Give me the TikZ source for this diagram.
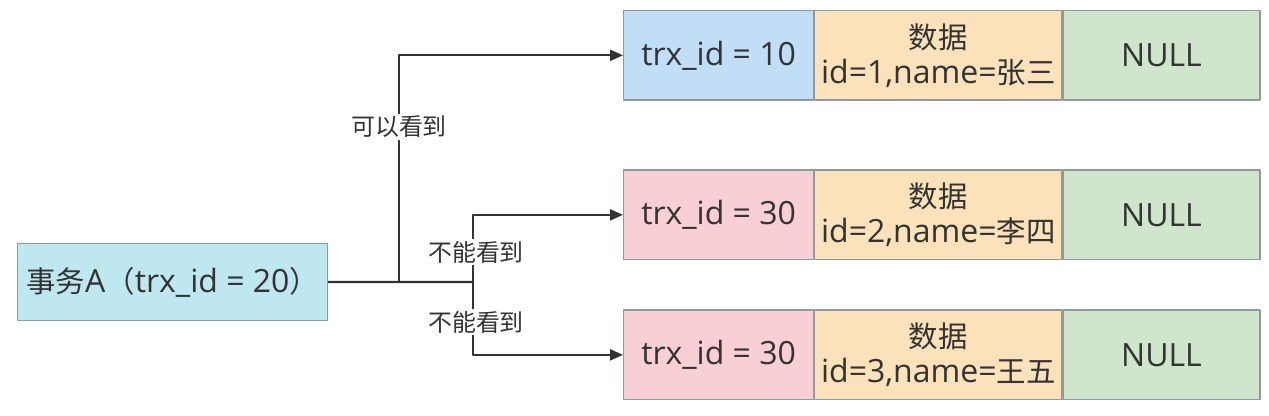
\documentclass[tikz,border=0pt]{standalone}
\usepackage{fontspec}
\setmainfont{Open Sans}
\newfontfamily\cjk[Scale=0.92]{Noto Sans CJK SC}
\usetikzlibrary{arrows.meta}
\definecolor{txtgray}{HTML}{333333}
\definecolor{edgegray}{HTML}{8E9A9C}
\definecolor{txblue}{HTML}{BEE7EF}
\definecolor{idblue}{HTML}{C2DDF6}
\definecolor{idpink}{HTML}{F8CFD4}
\definecolor{dataorange}{HTML}{FBE2BA}
\definecolor{nullgreen}{HTML}{CFE5CC}
\begin{document}
\begin{tikzpicture}[x=0.5pt, y=-0.5pt, font=\fontsize{16}{17.5}\selectfont, line join=round,
	>={Triangle[length=6.5pt,width=5.5pt]},
	cell/.style={draw=edgegray, line width=0.6pt, text=txtgray, inner sep=0pt, anchor=north west, align=center, minimum height=44.75pt},
	idcell/.style={cell, minimum width=95pt},
	datacell/.style={cell, fill=dataorange, minimum width=123.5pt},
	nullcell/.style={cell, fill=nullgreen, minimum width=98.5pt},
	lbl/.style={fill=white, text=txtgray, inner sep=1pt, font=\cjk\fontsize{13}{14}\selectfont},
	link/.style={draw=txtgray, line width=1.1pt}]
	\useasboundingbox (0,0) rectangle (1269,416);
	%transaction
	\node[cell, fill=txblue, minimum width=155pt, minimum height=38.5pt] (tx) at (17,243) {{\cjk 事务}A{\cjk （}trx\_id = 20{\cjk ）}};
	%versions
	\node[idcell, fill=idblue] (id1) at (623,10) {trx\_id = 10};
	\node[datacell] (data1) at (id1.north east) {{\cjk 数据}\\id=1,name={\cjk 张三}};
	\node[nullcell] (null1) at (data1.north east) {NULL};
	\node[idcell, fill=idpink] (id2) at (623,169.5) {trx\_id = 30};
	\node[datacell] (data2) at (id2.north east) {{\cjk 数据}\\id=2,name={\cjk 李四}};
	\node[nullcell] (null2) at (data2.north east) {NULL};
	\node[idcell, fill=idpink] (id3) at (623,309.5) {trx\_id = 30};
	\node[datacell] (data3) at (id3.north east) {{\cjk 数据}\\id=3,name={\cjk 王五}};
	\node[nullcell] (null3) at (data3.north east) {NULL};
	%links
	\coordinate (J1) at (399,282);
	\coordinate (J2) at (473,282);
	\draw[link] (tx.east) -- (J2);
	\draw[link,->] (J1) |- (id1.west);
	\draw[link,->] (J2) |- (id2.west);
	\draw[link,->] (J2) |- (id3.west);
	\node[lbl] (see) at (399,127) {可以看到};
	\node[lbl] (nosee2) at (476,252) {不能看到};
	\node[lbl] (nosee3) at (476,322) {不能看到};
\end{tikzpicture}
\end{document}
